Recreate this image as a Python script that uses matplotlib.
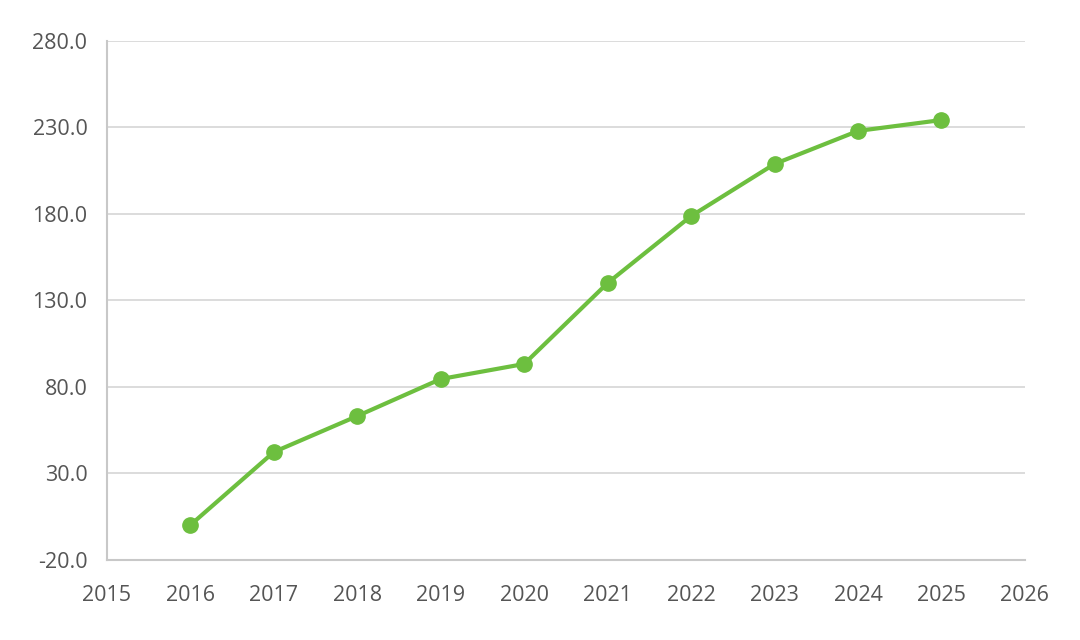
import matplotlib.pyplot as plt

years = [2016, 2017, 2018, 2019, 2020, 2021, 2022, 2023, 2024, 2025]
values = [0.2, 42.4, 63.2, 84.6, 93.3, 140.1, 178.8, 208.9, 228.0, 234.3]
y_ticks = [-20, 30, 80, 130, 180, 230, 280]
x_ticks = list(range(2015, 2027))

plt.rcParams['font.family'] = ['Open Sans', 'DejaVu Sans']

fig = plt.figure(figsize=(10.8, 6.4), dpi=100)
ax = fig.add_axes([0.099, 0.125, 0.85, 0.811])

green = '#6dbf3f'
ax.plot(years, values, '-', color=green, linewidth=3, marker='o', markersize=11, zorder=3)

ax.set_xlim(2015, 2026)
ax.set_ylim(-20, 280)
ax.set_yticks(y_ticks)
ax.set_yticklabels([f'{v:.1f}' for v in y_ticks])
ax.set_xticks(x_ticks)

ax.grid(axis='y', color='#d9d9d9', linewidth=1.3)
ax.set_axisbelow(True)
for side in ['top', 'right']:
    ax.spines[side].set_visible(False)
for side in ['left', 'bottom']:
    ax.spines[side].set_color('#c8c8c8')
    ax.spines[side].set_linewidth(1.5)

ax.tick_params(length=0, labelsize=15.5, labelcolor='#555555')
ax.tick_params(axis='y', pad=14)
ax.tick_params(axis='x', pad=18)

fig.savefig('out.png', dpi=100)
